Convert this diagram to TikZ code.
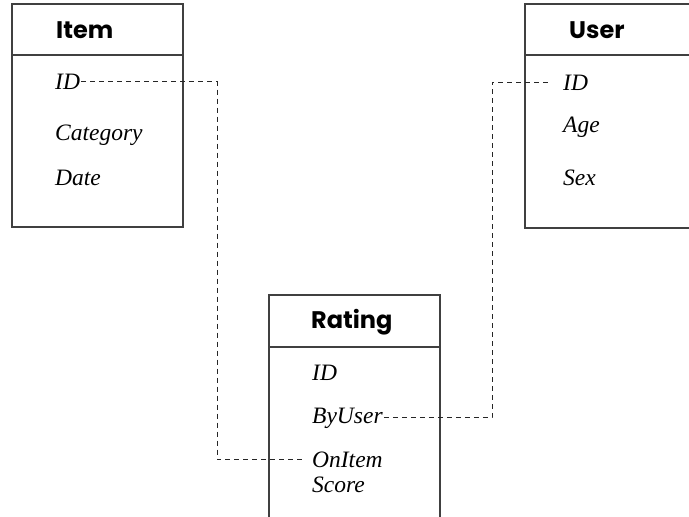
\documentclass[tikz,border=0pt]{standalone}
\usepackage{fontspec}
\setmainfont{Liberation Serif}
\newfontfamily\hdrfont{Poppins}
\begin{document}
\begin{tikzpicture}[x=1pt,y=-1pt,
  tablebox/.style={draw=black!75,line width=1.1pt},
  hdr/.style={anchor=base west,inner sep=0pt,font=\hdrfont\bfseries\fontsize{24}{28}\selectfont},
  field/.style={anchor=base west,inner sep=1pt,font=\itshape\fontsize{23.5}{28}\selectfont},
  link/.style={draw=black!85,line width=0.8pt,dash pattern=on 5pt off 4pt}]
\useasboundingbox (0,0) rectangle (689,517);
\clip (0,0) rectangle (689,517);
% Item
\draw[tablebox] (12,4) rectangle (183,227);
\draw[tablebox] (12,55) -- (183,55);
\node[hdr] (itemh) at (56,38) {Item};
\node[field] (iid) at (54,89) {ID};
\node[field] (icat) at (54,140) {Category};
\node[field] (idate) at (54,185) {Date};
% User
\draw[tablebox] (525,4) rectangle (700,228);
\draw[tablebox] (525,55) -- (700,55);
\node[hdr] (userh) at (569,38) {User};
\node[field] (uid) at (562,90) {ID};
\node[field] (uage) at (562,132) {Age};
\node[field] (usex) at (562,185) {Sex};
% Rating
\draw[tablebox] (269,295) rectangle (440,530);
\draw[tablebox] (269,347) -- (440,347);
\node[hdr] (ratingh) at (311,328) {Rating};
\node[field] (rid) at (311,380) {ID};
\node[field] (rby) at (311,423) {ByUser};
\node[field] (ron) at (311,467) {OnItem};
\node[field] (rscore) at (311,492) {Score};
% connectors
\coordinate (c1) at (217,0);
\coordinate (c2) at (492,0);
\draw[link] (iid.east) -- (iid.east -| c1) |- ([xshift=-8pt]ron.west);
\draw[link] (rby.east) -- (rby.east -| c2) |- ([xshift=-10pt]uid.west);
\end{tikzpicture}
\end{document}
